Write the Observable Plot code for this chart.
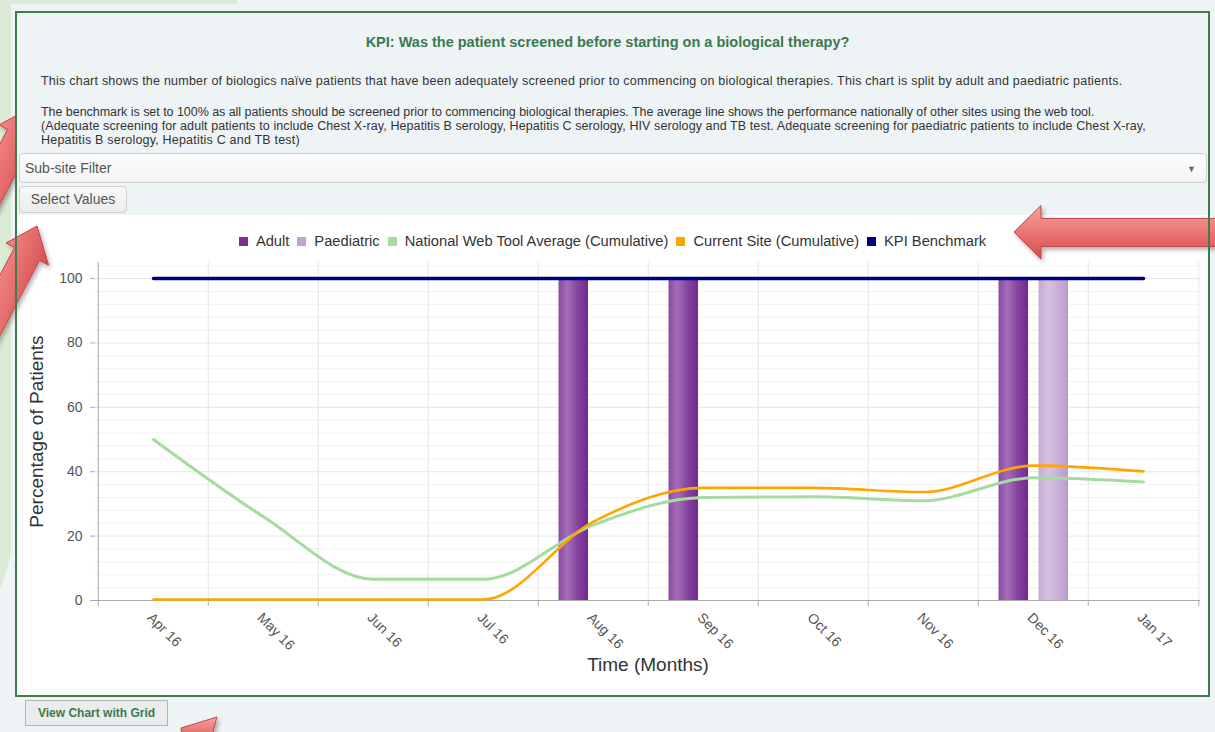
<!DOCTYPE html>
<html>
<head>
<meta charset="utf-8">
<script src="https://cdn.jsdelivr.net/npm/d3@7"></script>
<script src="https://cdn.jsdelivr.net/npm/@observablehq/plot@0.6"></script>
<style>
  html, body { margin: 0; padding: 0; }
  body { width: 1215px; height: 732px; overflow: hidden; background: #eef3f6; position: relative;
         font-family: "Liberation Sans", Arial, sans-serif; color: #333; }
  .abs { position: absolute; }
  #leftstrip { left: 0; top: 0; width: 11px; height: 590px; background: #dcebd5;
               clip-path: polygon(0 0, 100% 0, 100% 94%, 0 100%); }
  #topstrip { left: 0; top: 0; width: 237px; height: 4px; background: #dcebd5; }
  #boxbg { left: 17px; top: 13px; width: 1191px; height: 682px; background: #eef3f5; }
  #boxborder { left: 15px; top: 11px; width: 1191px; height: 682px; border: 2px solid #3f7c4e; z-index: 6; pointer-events: none; }
  #title { left: 0; top: 33px; width: 1215px; text-align: center; font-weight: bold; font-size: 14.5px;
           line-height: 18px; color: #3b7a50; white-space: nowrap; }
  .line { left: 41px; font-size: 12.5px; line-height: 14px; color: #333; white-space: nowrap; }
  #p1 { top: 74px; letter-spacing: 0.23px; }
  #p2a { top: 105px; letter-spacing: -0.04px; }
  #p2b { top: 119px; letter-spacing: 0.09px; }
  #p2c { top: 133px; letter-spacing: 0.2px; }
  #dropdown { left: 19px; top: 153px; width: 1186px; height: 28px; border: 1px solid #cfcfcf; border-radius: 4px;
              background: linear-gradient(#fdfdfd, #f4f4f4); }
  #dropdown .lbl { position: absolute; left: 5px; top: 0; line-height: 28px; font-size: 14px; color: #555; }
  #dropdown .caret { position: absolute; right: 10px; top: 0; line-height: 30px; font-size: 9px; color: #666; }
  #selbtn { left: 19px; top: 186px; width: 106px; height: 25px; border: 1px solid #cfcfcf; border-radius: 4px;
            background: linear-gradient(#f8f8f8, #ececec); text-align: center; line-height: 25px; font-size: 14px; color: #555; }
  #chartbg { left: 17px; top: 215px; width: 1191px; height: 480px; background: #fff; }
  #legend { left: 17px; top: 233px; width: 1191px; height: 16px; display: flex; justify-content: center; align-items: center;
            font-size: 14.7px; color: #333; white-space: nowrap; }
  #legend .item { display: flex; align-items: center; margin: 0 4px; }
  #legend .sw { width: 9px; height: 9px; margin-right: 8px; }
  #chart { left: 17px; top: 255px; width: 1191px; height: 440px; }
  #gridbtn { left: 25px; top: 700px; width: 141px; height: 24px; border: 1px solid #b5b5b5; background: #ececec;
             text-align: center; line-height: 24px; font-size: 12px; font-weight: bold; color: #3b7a50; }
  #arrows { left: 0; top: 0; width: 1215px; height: 732px; z-index: 5; pointer-events: none; }
</style>
</head>
<body>
<div id="leftstrip" class="abs"></div>
<div id="topstrip" class="abs"></div>
<div id="boxbg" class="abs"></div>
<div id="title" class="abs">KPI: Was the patient screened before starting on a biological therapy?</div>
<div id="p1" class="abs line">This chart shows the number of biologics naïve patients that have been adequately screened prior to commencing on biological therapies. This chart is split by adult and paediatric patients.</div>
<div id="p2a" class="abs line">The benchmark is set to 100% as all patients should be screened prior to commencing biological therapies. The average line shows the performance nationally of other sites using the web tool.</div>
<div id="p2b" class="abs line">(Adequate screening for adult patients to include Chest X-ray, Hepatitis B serology, Hepatitis C serology, HIV serology and TB test. Adequate screening for paediatric patients to include Chest X-ray,</div>
<div id="p2c" class="abs line">Hepatitis B serology, Hepatitis C and TB test)</div>
<div id="dropdown" class="abs"><span class="lbl">Sub-site Filter</span><span class="caret">&#9660;</span></div>
<div id="selbtn" class="abs">Select Values</div>
<div id="chartbg" class="abs"></div>
<div id="legend" class="abs"></div>
<div id="chart" class="abs"></div>
<div id="gridbtn" class="abs">View Chart with Grid</div>
<svg id="arrows" class="abs" xmlns="http://www.w3.org/2000/svg">
  <defs>
    <linearGradient id="redV" x1="0" y1="0" x2="0" y2="1">
      <stop offset="0" stop-color="#f8a3a3"/>
      <stop offset="0.55" stop-color="#ea7070"/>
      <stop offset="1" stop-color="#d24c4c"/>
    </linearGradient>
    <linearGradient id="redD" x1="0" y1="0" x2="1" y2="0.5">
      <stop offset="0" stop-color="#d44c4c"/>
      <stop offset="0.5" stop-color="#ef8080"/>
      <stop offset="1" stop-color="#d04848"/>
    </linearGradient>
    <filter id="shadow" x="-20%" y="-20%" width="140%" height="140%">
      <feDropShadow dx="2" dy="3" stdDeviation="2" flood-color="#000" flood-opacity="0.3"/>
    </filter>
    <clipPath id="clipLeft"><rect x="0" y="0" width="15.5" height="732"/></clipPath>
  </defs>
  <polygon points="1014,232 1041,205.5 1041,218.5 1225,218.5 1225,246.5 1041,246.5 1041,259"
           fill="url(#redV)" stroke="#c44545" stroke-width="1" filter="url(#shadow)"/>
  <polygon points="37,226 48.5,265 39.5,260.5 -7.5,349.5 -32.5,336.5 14.5,247.5 6,243"
           fill="url(#redD)" stroke="#c44545" stroke-width="1" filter="url(#shadow)"/>
  <g clip-path="url(#clipLeft)">
    <polygon points="30,108 41.5,147 32.5,142.5 -14.5,231.5 -39.5,218.5 7.5,129.5 -1,125"
             fill="url(#redD)" stroke="#c44545" stroke-width="1" filter="url(#shadow)"/>
  </g>
  <polygon points="217,717 213,731 222,745 183,745 181,728"
           fill="url(#redV)" stroke="#c44545" stroke-width="1" filter="url(#shadow)"/>
</svg>
<div id="boxborder" class="abs"></div>

<script>
// ---- data ----
const months = ["Apr 16", "May 16", "Jun 16", "Jul 16", "Aug 16", "Sep 16", "Oct 16", "Nov 16", "Dec 16", "Jan 17"];
const adult = [null, null, null, null, 100, 100, null, null, 100, null];
const paediatric = [null, null, null, null, null, null, null, null, 100, null];
const nationalAverage = [50, 26, 6.6, 6.6, 23.5, 32, 32.2, 31, 38.1, 36.8];
const currentSite = [0.3, 0.3, 0.3, 0.3, 24.5, 35, 35, 33.7, 41.9, 40.1];
const kpiBenchmark = [100, 100, 100, 100, 100, 100, 100, 100, 100, 100];
const seriesNames = ["Adult", "Paediatric", "National Web Tool Average (Cumulative)", "Current Site (Cumulative)", "KPI Benchmark"];
const seriesColors = ["#7b3294", "#c2a5cf", "#a6dba0", "#ffa500", "#000080"];
const yTicks = [0, 20, 40, 60, 80, 100];
const yMinorTicks = [4, 8, 12, 16, 24, 28, 32, 36, 44, 48, 52, 56, 64, 68, 72, 76, 84, 88, 92, 96, 104];
const yLabel = "Percentage of Patients";
const xLabel = "Time (Months)";

// ---- legend ----
const legend = document.getElementById("legend");
seriesNames.forEach((name, i) => {
  const item = document.createElement("div");
  item.className = "item";
  const sw = document.createElement("span");
  sw.className = "sw";
  sw.style.background = seriesColors[i];
  const t = document.createElement("span");
  t.textContent = name;
  item.appendChild(sw);
  item.appendChild(t);
  legend.appendChild(item);
});

// ---- chart ----
const W = 1191, H = 440;
const mL = 78, mR = 8, mT = 7, mB = 95;
const bw = (W - mL - mR) / months.length;

const toRows = (arr) => months.map((m, i) => ({month: m, value: arr[i]})).filter(d => d.value != null);

const defs = () => {
  const ns = "http://www.w3.org/2000/svg";
  const d = document.createElementNS(ns, "defs");
  d.innerHTML = `
    <linearGradient id="gAdult" x1="0" x2="1" y1="0" y2="0">
      <stop offset="0" stop-color="#8a4ba3"/>
      <stop offset="0.3" stop-color="#a46eb6"/>
      <stop offset="0.65" stop-color="#8543a0"/>
      <stop offset="1" stop-color="#74288e"/>
    </linearGradient>
    <linearGradient id="gPaed" x1="0" x2="1" y1="0" y2="0">
      <stop offset="0" stop-color="#c6abd3"/>
      <stop offset="0.35" stop-color="#d5c2e1"/>
      <stop offset="1" stop-color="#bb9bcb"/>
    </linearGradient>`;
  return d;
};

const gridColor = "#e6e6e6";
const axisColor = "#aaaaaa";
const last = [months[months.length - 1]];

const plot = Plot.plot({
  width: W, height: H,
  marginLeft: mL, marginRight: mR, marginTop: mT, marginBottom: mB,
  style: {fontFamily: "'Liberation Sans', Arial, sans-serif", background: "transparent", overflow: "visible"},
  x: {type: "band", domain: months, padding: 0, axis: null},
  y: {domain: [0, 105], axis: null},
  marks: [
    defs,
    Plot.ruleY(yMinorTicks, {stroke: "#f2f2f2"}),
    Plot.ruleY(yTicks.filter(v => v > 0), {stroke: gridColor}),
    Plot.ruleX(months, {x: d => d, dx: -bw / 2, stroke: gridColor}),
    Plot.ruleX(last, {x: d => d, dx: bw / 2, stroke: gridColor}),
    // bars
    Plot.barY(toRows(adult), {x: "month", y: "value", fill: "url(#gAdult)", insetLeft: 20.5, insetRight: bw - 50.5}),
    Plot.barY(toRows(paediatric), {x: "month", y: "value", fill: "url(#gPaed)", insetLeft: bw - 50, insetRight: 20}),
    // axes lines and ticks
    Plot.ruleY([0], {stroke: axisColor}),
    Plot.ruleX([months[0]], {x: d => d, dx: -bw / 2, stroke: axisColor}),
    Plot.ruleX(months, {x: d => d, dx: -bw / 2, y1: 0, y2: 0, insetBottom: -6, stroke: axisColor}),
    Plot.ruleX(last, {x: d => d, dx: bw / 2, y1: 0, y2: 0, insetBottom: -6, stroke: axisColor}),
    Plot.axisY(yTicks, {anchor: "left", tickSize: 5, tickPadding: 8, fontSize: 14, fill: "#555", stroke: axisColor, label: null}),
    // lines
    Plot.lineY(toRows(nationalAverage), {x: "month", y: "value", stroke: seriesColors[2], strokeWidth: 3, curve: "monotone-x"}),
    Plot.lineY(toRows(currentSite), {x: "month", y: "value", stroke: seriesColors[3], strokeWidth: 2.6, curve: "monotone-x"}),
    Plot.lineY(toRows(kpiBenchmark), {x: "month", y: "value", stroke: seriesColors[4], strokeWidth: 3.5}),
    // x tick labels
    Plot.text(months, {x: d => d, frameAnchor: "bottom", rotate: 45, textAnchor: "start", dx: -7, dy: 18, fontSize: 14, fill: "#555"}),
    // axis titles
    Plot.text([yLabel], {text: d => d, frameAnchor: "left", textAnchor: "middle", rotate: -90, dx: -59, fontSize: 19, fill: "#333"}),
    Plot.text([xLabel], {text: d => d, frameAnchor: "bottom", textAnchor: "middle", dy: 70, fontSize: 19, fill: "#333"})
  ]
});
document.getElementById("chart").appendChild(plot);
</script>
</body>
</html>
